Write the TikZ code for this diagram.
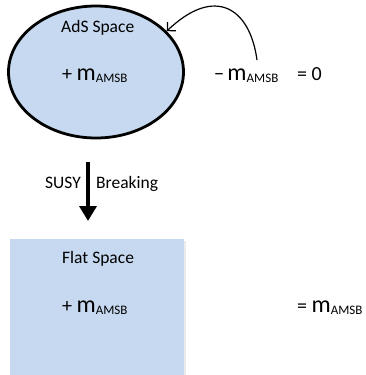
\documentclass[tikz,border=0pt]{standalone}
\usepackage{fontspec}
\setmainfont{Carlito}
\usetikzlibrary{shapes.geometric,arrows.meta}
\definecolor{paleblue}{RGB}{198,217,240}
\newcommand{\mamsb}{{\fontsize{24pt}{24pt}\selectfont m}\raisebox{-2.5pt}{\fontsize{13pt}{13pt}\selectfont AMSB}}
\tikzset{
  lbl/.style={inner sep=0pt, anchor=base west, font=\fontsize{17.5pt}{17.5pt}\selectfont},
  sym/.style={inner sep=0pt, anchor=base west, font=\fontsize{20pt}{20pt}\selectfont},
  adsbox/.style={ellipse, draw=black, line width=2.8pt, fill=paleblue, minimum width=175pt, minimum height=132pt, inner sep=0pt},
  flatbox/.style={rectangle, fill=paleblue, minimum width=174pt, minimum height=137pt, inner sep=0pt, anchor=north west},
  bendarrow/.style={line width=1.2pt, -{Straight Barb[length=6pt,width=12pt,line width=1.2pt]}},
  downarrow/.style={line width=3.5pt, -{Triangle[length=15pt,width=17pt]}}
}
\begin{document}
\begin{tikzpicture}[x=1pt,y=-1pt]
\useasboundingbox (0,0) rectangle (365,375);
% ellipse
\node[adsbox] (ads) at (96,72) {};
\node[lbl] (adst) at (61,32) {AdS Space};
\node[sym] (adsm) at (62,80) {+ \mamsb};
% minus term
\node[sym] (minus) at (214,80) {−\,\mamsb};
\node[sym] (zero) at (297,80) {= 0};
% curved arrow
\coordinate (cs) at (257,60);
\draw[bendarrow] (cs) .. controls (250,8) and (215,-15) .. (ads.30);
% down arrow
\coordinate (da) at (88,162);
\coordinate (db) at (88,221);
\draw[downarrow] (da) -- (db);
\node[lbl] (susy) at (45,188) {SUSY};
\node[lbl] (brk) at (96,188) {Breaking};
% flat box
\fill[black!8] (11.5,240.5) rectangle (185.5,378);
\node[flatbox] (flat) at (10,239) {};
\node[lbl] (flatt) at (62,263) {Flat Space};
\node[sym] (flatm) at (62,312) {+ \mamsb};
\node[sym] (res) at (297,312) {= \mamsb};
\end{tikzpicture}
\end{document}
